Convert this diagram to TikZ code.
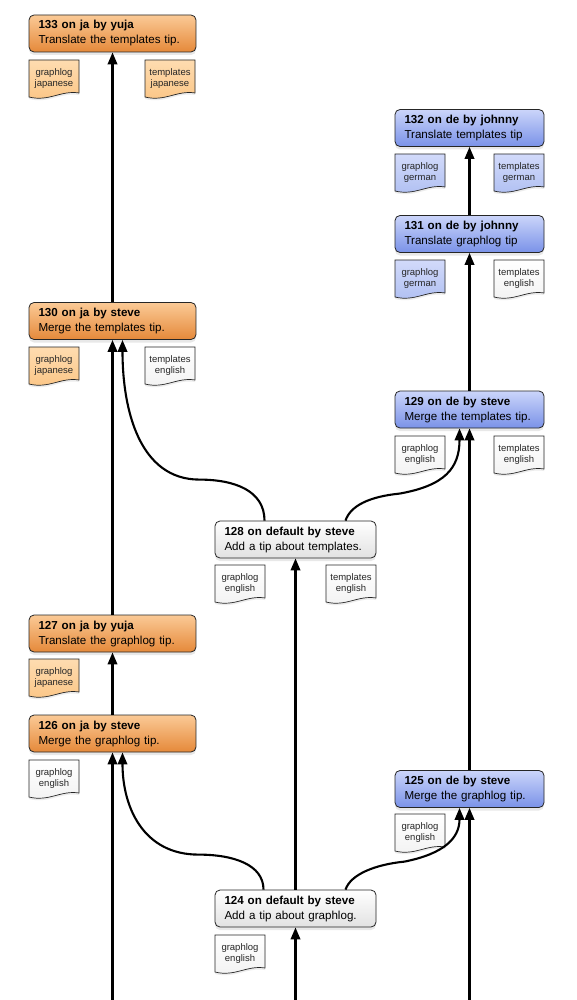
\documentclass[tikz,border=0pt]{standalone}
\usepackage{fontspec}
\setmainfont{Liberation Sans}
\usetikzlibrary{arrows.meta,calc,shadows}
\definecolor{orTop}{HTML}{FBCA96}
\definecolor{orBot}{HTML}{E5893A}
\definecolor{blTop}{HTML}{CBD5FA}
\definecolor{blBot}{HTML}{7A92E8}
\definecolor{wTop}{HTML}{FFFFFF}
\definecolor{wBot}{HTML}{E2E2E2}
\definecolor{oiTop}{HTML}{FEDCB0}
\definecolor{oiBot}{HTML}{FBC585}
\definecolor{biTop}{HTML}{D2DAFA}
\definecolor{biBot}{HTML}{AFBFF2}
\definecolor{wiBot}{HTML}{F2F2F2}
\tikzset{
  commit/.style={draw=black!85, line width=0.8pt, rounded corners=5pt,
    minimum height=37pt, inner xsep=9.5pt, inner ysep=0pt, align=left,
    font=\fontsize{11.6}{15}\selectfont,
    drop shadow={opacity=0.18, shadow xshift=0pt, shadow yshift=-3pt}},
  jabox/.style={commit, top color=orTop, bottom color=orBot, text width=148pt},
  debox/.style={commit, top color=blTop, bottom color=blBot, text width=130pt},
  dfbox/.style={commit, top color=wTop, bottom color=wBot, text width=142pt},
  doctext/.style={font=\fontsize{9.5}{11}\selectfont, align=center, text=black!85, inner sep=0pt},
  docshape/.style={draw=black!85, line width=0.7pt,
    drop shadow={opacity=0.15, shadow xshift=0pt, shadow yshift=-2pt}},
  conn/.style={line width=2.1pt, -{Triangle[length=12pt,width=9.5pt]}}
}
\newcommand\docicon[6]{%
  \begin{scope}[shift={(#2,#3)}]
    \path[docshape, top color=#4, bottom color=#5]
      (0,0) -- (50,0) -- (50,33) .. controls (32,30) and (20,42) .. (0,37) -- cycle;
    \node[doctext] (#1) at (25,18.5) {#6};
  \end{scope}}
\newcommand\ctext[2]{\mbox{\textbf{#1}}\\\mbox{#2}}
\begin{document}
\begin{tikzpicture}[x=1pt,y=-1pt]
\useasboundingbox (0,0) rectangle (576,1000);
\fill[white] (0,0) rectangle (576,1000);

% commit boxes
\node[jabox] (n133) at (112.5,33.5) {\ctext{133 on ja by yuja}{Translate the templates tip.}};
\node[debox] (n132) at (469.5,128) {\ctext{132 on de by johnny}{Translate templates tip}};
\node[debox] (n131) at (469.5,234) {\ctext{131 on de by johnny}{Translate graphlog tip}};
\node[jabox] (n130) at (112.5,321) {\ctext{130 on ja by steve}{Merge the templates tip.}};
\node[debox] (n129) at (469.5,409.5) {\ctext{129 on de by steve}{Merge the templates tip.}};
\node[dfbox] (n128) at (295.5,539.5) {\ctext{128 on default by steve}{Add a tip about templates.}};
\node[jabox] (n127) at (112.5,633.5) {\ctext{127 on ja by yuja}{Translate the graphlog tip.}};
\node[jabox] (n126) at (112.5,733.5) {\ctext{126 on ja by steve}{Merge the graphlog tip.}};
\node[debox] (n125) at (469.5,789) {\ctext{125 on de by steve}{Merge the graphlog tip.}};
\node[dfbox] (n124) at (295.5,908.5) {\ctext{124 on default by steve}{Add a tip about graphlog.}};

% file icons
\docicon{f133a}{29}{60}{oiTop}{oiBot}{graphlog\\japanese}
\docicon{f133b}{145}{60}{oiTop}{oiBot}{templates\\japanese}
\docicon{f132a}{395}{154}{biTop}{biBot}{graphlog\\german}
\docicon{f132b}{494}{154}{biTop}{biBot}{templates\\german}
\docicon{f131a}{395}{260}{biTop}{biBot}{graphlog\\german}
\docicon{f131b}{494}{260}{wTop}{wiBot}{templates\\english}
\docicon{f130a}{29}{347}{oiTop}{oiBot}{graphlog\\japanese}
\docicon{f130b}{145}{347}{wTop}{wiBot}{templates\\english}
\docicon{f129a}{395}{436}{wTop}{wiBot}{graphlog\\english}
\docicon{f129b}{494}{436}{wTop}{wiBot}{templates\\english}
\docicon{f128a}{215}{565}{wTop}{wiBot}{graphlog\\english}
\docicon{f128b}{326}{565}{wTop}{wiBot}{templates\\english}
\docicon{f127a}{29}{659}{oiTop}{oiBot}{graphlog\\japanese}
\docicon{f126a}{29}{760}{wTop}{wiBot}{graphlog\\english}
\docicon{f125a}{395}{814}{wTop}{wiBot}{graphlog\\english}
\docicon{f124a}{215}{935}{wTop}{wiBot}{graphlog\\english}

% incoming free ends
\coordinate (in126) at (112.5,1000);
\coordinate (in124) at (295.5,1000);
\coordinate (in125) at (469.5,1000);

% straight edges
\draw[conn] (n130.north) -- (n133.south);
\draw[conn] (n127.north) -- (n130.south);
\draw[conn] (n126.north) -- (n127.south);
\draw[conn] (n131.north) -- (n132.south);
\draw[conn] (n129.north) -- (n131.south);
\draw[conn] (n125.north) -- (n129.south);
\draw[conn] (n124.north) -- (n128.south);
\draw[conn] (in126) -- (n126.south);
\draw[conn] (in124) -- (n124.south);
\draw[conn] (in125) -- (n125.south);

% curved edges
\draw[conn] ($(n128.north)+(-31,0)$) .. controls +(0,-30) and +(35,0) ..
  ($(n128.north)+(-96,-41)$) .. controls +(-60,0) and +(0,70) .. ($(n130.south)+(10,0)$);
\draw[conn] ($(n128.north)+(50,0)$) .. controls +(5,-15) and +(-30,3) ..
  ($(n128.north)+(104,-27)$) .. controls +(45,-8) and +(0,40) .. ($(n129.south)+(-10,0)$);
\draw[conn] ($(n124.north)+(-32,0)$) .. controls +(0,-25) and +(35,0) ..
  ($(n124.north)+(-97,-35)$) .. controls +(-55,0) and +(0,55) .. ($(n126.south)+(10,0)$);
\draw[conn] ($(n124.north)+(50,0)$) .. controls +(5,-15) and +(-30,3) ..
  ($(n124.north)+(109,-28)$) .. controls +(40,-8) and +(0,30) .. ($(n125.south)+(-10,0)$);
\end{tikzpicture}
\end{document}
